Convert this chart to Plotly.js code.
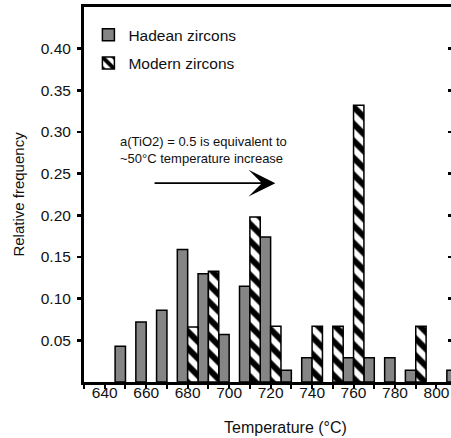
<!DOCTYPE html>
<html>
<head>
<meta charset="utf-8">
<script src="https://cdn.plot.ly/plotly-3.0.1.min.js"></script>
<style>
html, body { margin: 0; padding: 0; width: 451px; height: 438px; overflow: hidden; background: #fff; }
#chart { width: 451px; height: 438px; }
</style>
</head>
<body>
<div id="chart"></div>
<script>
// Data
const hadeanTemps = [650, 660, 670, 680, 690, 700, 710, 720, 730, 740, 760, 770, 780, 790, 810];
const hadeanFreq  = [0.043, 0.072, 0.086, 0.159, 0.130, 0.057, 0.115, 0.174, 0.014, 0.029, 0.029, 0.029, 0.029, 0.014, 0.014];
const modernTemps = [680, 690, 710, 720, 740, 750, 760, 790];
const modernFreq  = [0.066, 0.133, 0.198, 0.067, 0.067, 0.067, 0.332, 0.067];
const yTickVals = [0.05, 0.10, 0.15, 0.20, 0.25, 0.30, 0.35, 0.40];
const xTickVals = [640, 660, 680, 700, 720, 740, 760, 780, 800];
const seriesNames = ['Hadean zircons', 'Modern zircons'];

const FONT = '"Liberation Sans", Arial, Helvetica, sans-serif';
const INK = '#111111';

const traces = [
  {
    type: 'bar', name: seriesNames[0], x: hadeanTemps, y: hadeanFreq,
    width: 5, offset: -5,
    marker: { color: '#858585', line: { color: '#000', width: 1.5 } },
    legendgroup: 'h', hoverinfo: 'x+y'
  },
  {
    type: 'bar', name: seriesNames[1], x: modernTemps, y: modernFreq,
    width: 5, offset: 0,
    marker: { color: '#ffffff', line: { color: '#000', width: 1.5 },
      pattern: { shape: '\\', fgcolor: '#000', bgcolor: '#fff', size: 12, solidity: 0.5 } },
    legendgroup: 'm', hoverinfo: 'x+y'
  },
  {
    type: 'scatter', x: [640], y: [0], yaxis: 'y2', mode: 'markers',
    marker: { opacity: 0 }, showlegend: false, hoverinfo: 'skip'
  }
];

const layout = {
  width: 451, height: 438,
  margin: { l: 84, r: 0, t: 7, b: 56 },
  paper_bgcolor: '#fff', plot_bgcolor: '#fff',
  font: { family: FONT, color: INK, size: 14 },
  barmode: 'overlay',
  showlegend: true,
  legend: {
    x: 0.012, y: 0.970, xanchor: 'left', yanchor: 'top',
    font: { family: FONT, size: 15.5, color: INK },
    traceorder: 'grouped', tracegroupgap: 5,
    bgcolor: 'rgba(0,0,0,0)', borderwidth: 0
  },
  xaxis: {
    range: [630, 807], tickvals: xTickVals, ticktext: xTickVals.map(String),
    ticks: 'outside', ticklen: 4, tickwidth: 2, tickcolor: '#000',
    minor: { dtick: 10, tick0: 630, ticks: 'outside', ticklen: 4, tickwidth: 2, tickcolor: '#000', showgrid: false },
    showline: true, linewidth: 3, linecolor: '#000', mirror: true,
    showgrid: false, zeroline: false, fixedrange: true,
    ticklabelstandoff: -10,
    tickfont: { family: FONT, size: 15.5, color: INK }
  },
  yaxis: {
    range: [0, 0.45], tickvals: yTickVals, tickformat: '.2f',
    ticks: 'outside', ticklen: 4, tickwidth: 2.5, tickcolor: '#000',
    showline: true, linewidth: 3, linecolor: '#000',
    showgrid: false, zeroline: false, fixedrange: true,
    ticklabelstandoff: 3,
    tickfont: { family: FONT, size: 15.5, color: INK },
    title: { text: 'Relative frequency', font: { family: FONT, size: 15, color: INK }, standoff: 13 }
  },
  yaxis2: {
    overlaying: 'y', side: 'right', range: [0, 0.45], tickvals: yTickVals,
    ticks: 'inside', ticklen: 3, tickwidth: 2.5, tickcolor: '#000',
    showticklabels: false, showline: false,
    showgrid: false, zeroline: false, fixedrange: true
  },
  annotations: [
    {
      xref: 'x', yref: 'y', x: 646.4, y: 0.279, xanchor: 'left', yanchor: 'middle', align: 'left',
      text: 'a(TiO2) = 0.5 is equivalent to<br>~50°C temperature increase',
      showarrow: false, font: { family: FONT, size: 13, color: INK }
    },
    {
      xref: 'x', yref: 'y', axref: 'x', ayref: 'y',
      x: 722.3, y: 0.2386, ax: 663.3, ay: 0.2386, text: '',
      showarrow: true, arrowhead: 3, arrowsize: 2.8, arrowwidth: 1.6, arrowcolor: '#000'
    },
    {
      xref: 'x', yref: 'paper', x: 727, y: -0.12, xanchor: 'center', yanchor: 'middle',
      text: 'Temperature (°C)', showarrow: false, font: { family: FONT, size: 16, color: INK }
    }
  ]
};

Plotly.newPlot('chart', traces, layout, { displayModeBar: false, staticPlot: true });
</script>
</body>
</html>
